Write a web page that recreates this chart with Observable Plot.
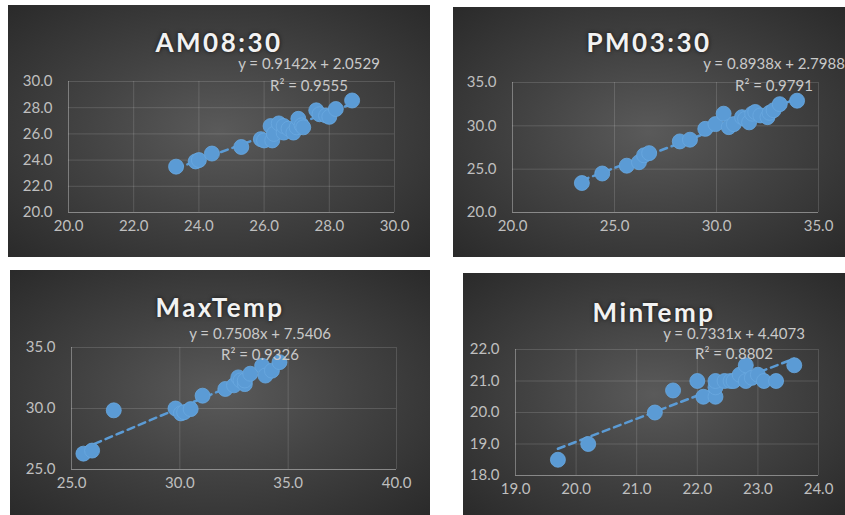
<!DOCTYPE html>
<html>
<head>
<meta charset="utf-8">
<script src="https://cdn.jsdelivr.net/npm/d3@7"></script>
<script src="https://cdn.jsdelivr.net/npm/@observablehq/plot@0.6"></script>
<style>
  html, body { margin: 0; padding: 0; background: #ffffff; }
  body { width: 845px; height: 515px; position: relative; overflow: hidden; font-family: Lato, "Open Sans", sans-serif; }
  .panel { position: absolute; background: radial-gradient(ellipse at 50% 50%, #5a5a5a 0%, #434343 45%, #2a2a2a 100%); overflow: hidden; }
  .panel svg { position: absolute; left: 0; top: 0; overflow: visible; }
  .title { position: absolute; transform: translate(-50%, -50%); color: #f2f2f2; font-weight: 700; font-size: 26px; line-height: 24px; letter-spacing: 2.5px; white-space: nowrap; text-shadow: 0 0 4px rgba(0,0,0,0.7); }
  .eq { position: absolute; transform: translate(-50%, -50%); color: #c9c9c9; font-size: 15px; line-height: 15px; text-align: center; white-space: nowrap; }
</style>
</head>
<body>
<script>
// ---- data ----
const amX = [23.3, 23.9, 24.0, 24.4, 25.3, 25.9, 26.0, 26.2, 26.25, 26.3, 26.45, 26.6, 26.6, 26.75, 26.9, 27.0, 27.05, 27.15, 27.2, 27.6, 27.7, 27.9, 28.0, 28.2, 28.7];
const amY = [23.5, 23.9, 24.0, 24.5, 25.0, 25.6, 25.5, 26.6, 25.5, 26.0, 26.8, 26.1, 26.6, 26.4, 26.1, 26.5, 27.15, 26.65, 26.5, 27.8, 27.5, 27.4, 27.3, 27.9, 28.55];

const pmX = [23.4, 24.4, 25.6, 26.2, 26.45, 26.7, 28.2, 28.7, 29.45, 29.95, 30.35, 30.6, 30.85, 31.25, 31.4, 31.6, 31.75, 31.9, 32.15, 32.5, 32.6, 32.8, 33.1, 33.95];
const pmY = [23.4, 24.5, 25.4, 25.8, 26.6, 26.85, 28.2, 28.4, 29.65, 30.2, 31.4, 29.85, 30.2, 31.0, 30.8, 30.4, 31.4, 31.6, 31.2, 31.0, 31.5, 31.8, 32.5, 32.9];

const maxX = [25.55, 25.95, 26.95, 29.8, 30.05, 30.2, 30.5, 31.05, 32.1, 32.5, 32.7, 32.8, 33.0, 33.0, 33.25, 33.8, 33.95, 34.25, 34.6];
const maxY = [26.3, 26.55, 29.85, 30.0, 29.6, 29.7, 29.95, 31.05, 31.6, 31.9, 32.55, 32.3, 32.0, 32.3, 32.85, 33.5, 32.7, 33.1, 33.8];

const minX = [19.7, 20.2, 21.3, 21.6, 22.0, 22.1, 22.3, 22.3, 22.3, 22.45, 22.55, 22.6, 22.7, 22.8, 22.8, 22.9, 23.0, 23.1, 23.3, 23.6];
const minY = [18.5, 19.0, 20.0, 20.7, 21.0, 20.5, 20.5, 20.8, 21.0, 21.0, 21.0, 21.0, 21.2, 21.5, 21.0, 21.1, 21.2, 21.0, 21.0, 21.5];

const titles = ["AM08:30", "PM03:30", "MaxTemp", "MinTemp"];
const slopes = [0.9142, 0.8938, 0.7508, 0.7331];
const intercepts = [2.0529, 2.7988, 7.5406, 4.4073];
const r2s = ["0.9555", "0.9791", "0.9326", "0.8802"];

const amXTicks = [20, 22, 24, 26, 28, 30];
const amYTicks = [20, 22, 24, 26, 28, 30];
const pmXTicks = [20, 25, 30, 35];
const pmYTicks = [20, 25, 30, 35];
const maxXTicks = [25, 30, 35, 40];
const maxYTicks = [25, 30, 35];
const minXTicks = [19, 20, 21, 22, 23, 24];
const minYTicks = [18, 19, 20, 21, 22];

// ---- layout ----
const panels = [
  {xs: amX, ys: amY, xt: amXTicks, yt: amYTicks, box: [8, 5, 422, 252], m: [76, 36, 45, 60], titleY: 37, eq: [301, 58, 80]},
  {xs: pmX, ys: pmY, xt: pmXTicks, yt: pmYTicks, box: [453, 7, 392, 250], m: [75, 27, 45, 59], titleY: 35, eq: [321, 56, 78]},
  {xs: maxX, ys: maxY, xt: maxXTicks, yt: maxYTicks, box: [10, 270, 420, 245], m: [77, 34, 46, 61], titleY: 37, eq: [250, 63, 84]},
  {xs: minX, ys: minY, xt: minXTicks, yt: minYTicks, box: [463, 273, 382, 242], m: [76, 27, 40, 52], titleY: 39, eq: [271, 60, 80]}
];

const blue = "#5b9bd5";
const fmt = d3.format(".1f");

panels.forEach((p, i) => {
  const [left, top, w, h] = p.box;
  const div = document.createElement("div");
  div.className = "panel";
  Object.assign(div.style, {left: left + "px", top: top + "px", width: w + "px", height: h + "px"});

  const pts = p.xs.map((x, k) => ({x, y: p.ys[k]}));
  const [x0, x1] = d3.extent(p.xs);
  const trend = [x0, x1].map(x => ({x, y: slopes[i] * x + intercepts[i]}));
  const xd = d3.extent(p.xt), yd = d3.extent(p.yt);

  const chart = Plot.plot({
    width: w, height: h,
    marginTop: p.m[0], marginRight: p.m[1], marginBottom: p.m[2], marginLeft: p.m[3],
    style: {background: "transparent", color: "#bfbfbf", fontFamily: "Lato, 'Open Sans', sans-serif", fontSize: "15px"},
    x: {domain: xd, ticks: p.xt, tickFormat: fmt, tickSize: 0, tickPadding: 8, label: null},
    y: {domain: yd, ticks: p.yt, tickFormat: fmt, tickSize: 0, tickPadding: 16, label: null},
    marks: [
      Plot.ruleX(p.xt, {stroke: "#ffffff", strokeOpacity: 0.14}),
      Plot.ruleY(p.yt, {stroke: "#ffffff", strokeOpacity: 0.14}),
      Plot.ruleY([yd[0]], {stroke: "#ffffff", strokeOpacity: 0.3}),
      Plot.ruleX([xd[0]], {stroke: "#ffffff", strokeOpacity: 0.22}),
      Plot.line(trend, {x: "x", y: "y", stroke: blue, strokeWidth: 2.5, strokeDasharray: "7,5"}),
      Plot.dot(pts, {x: "x", y: "y", r: 7.5, fill: blue, fillOpacity: 1, stroke: "#6aa8e0", strokeWidth: 0.8})
    ]
  });
  div.appendChild(chart);

  const t = document.createElement("div");
  t.className = "title";
  t.textContent = titles[i];
  Object.assign(t.style, {left: (w / 2) + "px", top: p.titleY + "px"});
  div.appendChild(t);

  const lines = ["y = " + slopes[i].toFixed(4) + "x + " + intercepts[i].toFixed(4), "R² = " + r2s[i]];
  lines.forEach((txt, k) => {
    const e = document.createElement("div");
    e.className = "eq";
    e.textContent = txt;
    Object.assign(e.style, {left: p.eq[0] + "px", top: p.eq[1 + k] + "px"});
    div.appendChild(e);
  });

  document.body.appendChild(div);
});
</script>
</body>
</html>
